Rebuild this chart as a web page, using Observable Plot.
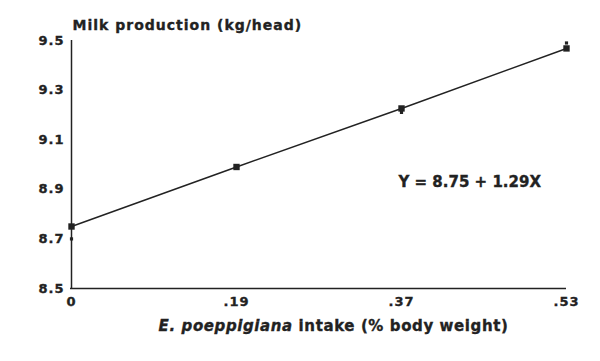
<!DOCTYPE html>
<html>
<head>
<meta charset="utf-8">
<script src="https://cdn.jsdelivr.net/npm/d3@7"></script>
<script src="https://cdn.jsdelivr.net/npm/@observablehq/plot@0.6"></script>
<style>
  html, body { margin: 0; padding: 0; background: #fff; }
  svg { display: block; }
  svg text { stroke: #222; stroke-width: 0.35px; }
</style>
</head>
<body>
<div id="chart"></div>
<script>
// Categories (intake, % body weight) as printed on the axis
const intakeLabels = ["0", ".19", ".37", ".53"];
// Fitted line / main markers (kg/head)
const fittedMilk = [8.75, 8.99, 9.226, 9.468];
// Small secondary markers next to main ones
const obsIntake = ["0", ".37", ".53"];
const obsMilk = [8.70, 9.21, 9.49];
// Y ticks
const yTicks = [8.5, 8.7, 8.9, 9.1, 9.3, 9.5];
// Texts
const titleText = "Milk production (kg/head)";
const xTitleItalic = "E. poeppigiana";
const xTitleRest = " intake (% body weight)";
const equationText = "Y = 8.75 + 1.29X";
const equationAnchor = {x: ".37", y: 8.93};

const fitted = intakeLabels.map((x, i) => ({x, y: fittedMilk[i]}));
const obs = obsIntake.map((x, i) => ({x, y: obsMilk[i]}));

const ink = "#222";
const plot = Plot.plot({
  width: 600,
  height: 361,
  marginLeft: 70,
  marginRight: 34,
  marginTop: 40,
  marginBottom: 73,
  style: {fontFamily: "DejaVu Sans", fontWeight: "bold", fontSize: "12px", color: ink, background: "#fff"},
  x: {type: "point", domain: intakeLabels, padding: 0, label: null},
  y: {domain: [8.5, 9.5], label: null},
  marks: [
    Plot.axisY({ticks: yTicks, tickFormat: d => d.toFixed(1), tickSize: 0, tickPadding: 6, fontSize: 13, fontWeight: "bold", label: null, className: "wide"}),
    Plot.axisX({tickSize: 0, tickPadding: 8, fontSize: 13, fontWeight: "bold", label: null, className: "wide"}),
    Plot.ruleY([8.5], {stroke: ink, strokeWidth: 1.5}),
    Plot.ruleX([intakeLabels[0]], {stroke: ink, strokeWidth: 1.5}),
    Plot.line(fitted, {x: "x", y: "y", stroke: ink, strokeWidth: 1.5}),
    Plot.dot(obs, {x: "x", y: "y", symbol: "square", r: 1.8, fill: ink, stroke: null}),
    Plot.dot(fitted, {x: "x", y: "y", symbol: "square", r: 3.6, fill: ink, stroke: null}),
    Plot.text([equationText], {x: () => equationAnchor.x, y: () => equationAnchor.y, text: d => d, textAnchor: "start", dx: -3, fontSize: 15, fontWeight: "bold", fill: ink}),
    Plot.text([titleText], {frameAnchor: "top-left", text: d => d, textAnchor: "start", lineAnchor: "bottom", dx: 2, dy: -11, fontSize: 14, fontWeight: "bold", fill: ink, className: "wide"}),
    Plot.text(["xlabel"], {frameAnchor: "bottom", text: d => d, lineAnchor: "middle", dx: 15, dy: 38, fontSize: 15, fontWeight: "bold", fill: ink, className: "xlab"})
  ]
});

d3.select(plot).selectAll(".wide text").attr("letter-spacing", "1px");
// Italic species name in the x-axis title
d3.select(plot).selectAll("text").filter(function() { return this.textContent === "xlabel"; })
  .attr("letter-spacing", "0.6px")
  .each(function() {
    const t = d3.select(this);
    t.text(null);
    t.append("tspan").attr("font-style", "italic").text(xTitleItalic);
    t.append("tspan").text(xTitleRest);
  });

document.getElementById("chart").appendChild(plot);
</script>
</body>
</html>
